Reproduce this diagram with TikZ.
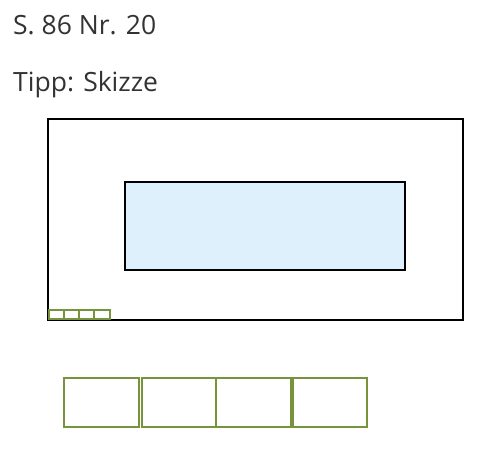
\documentclass[tikz,border=0pt]{standalone}
\usepackage{fontspec}
\setmainfont{Open Sans}
\definecolor{olive}{HTML}{77933C}
\definecolor{txt}{HTML}{333333}
\definecolor{lightblue}{HTML}{DDF0FB}
\begin{document}
\begin{tikzpicture}[x=1pt,y=-1pt,
  outer/.style={draw=black,line width=2.5pt},
  greenbox/.style={draw=olive,line width=2.2pt},
  smallbox/.style={draw=olive,line width=1.6pt},
  label/.style={anchor=base west,inner sep=0pt,text=txt,font=\fontsize{26.5}{30}\selectfont}]
\useasboundingbox (0,0) rectangle (500,448);
\node[label] (title) at (13,34) {S. 86 Nr. 20};
\node[label] (tip) at (13,91) {Tipp: Skizze};
\draw[outer] (48,119) rectangle (463,320);
\draw[outer,fill=lightblue] (125,182) rectangle (405,270);
\foreach \a/\b in {49/64,64/79,79/94,94/110}
  \draw[smallbox] (\a,310) rectangle (\b,319);
\foreach \a/\b in {64/139,142/216,216/291,293/367}
  \draw[greenbox] (\a,378) rectangle (\b,427);
\end{tikzpicture}
\end{document}
